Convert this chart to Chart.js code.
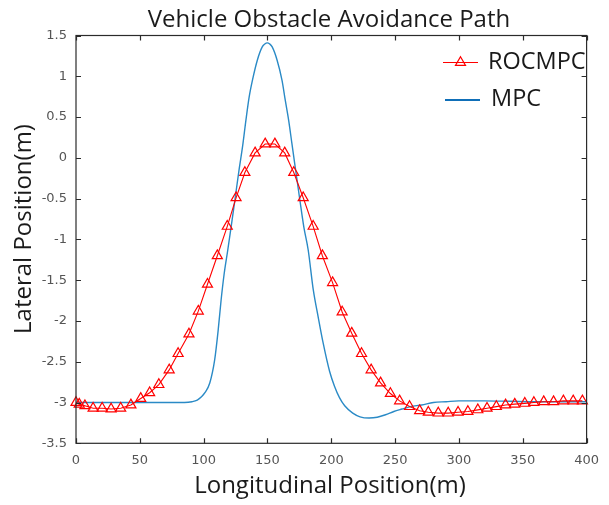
<!DOCTYPE html>
<html>
<head>
<meta charset="utf-8">
<title>Vehicle Obstacle Avoidance Path</title>
<script src="https://cdn.jsdelivr.net/npm/chart.js@4/dist/chart.umd.min.js"></script>
<style>
  html, body { margin: 0; padding: 0; background: #fff; }
  canvas { display: block; }
</style>
</head>
<body>
<canvas id="pathChart" width="609" height="505"></canvas>
<script>
// ROCMPC path (marker points)
const rocX = [0, 2.5, 7, 13.4, 20.5, 27.5, 35, 43, 50.7, 57.7, 64.9, 73, 80, 88.5, 95.8,
  103, 110.7, 118.5, 125.4, 132.3, 140.3, 148.2, 155.8, 163.5, 170.6, 178, 185.8, 193, 201,
  208.5, 216, 223.7, 231.2, 238.6, 246.3, 253.5, 261.3, 269.2, 276, 283.8, 291.6, 299.3,
  307, 314.8, 322, 329.3, 336.5, 343.7, 351.6, 358.7, 366.4, 374.1, 381.8, 389.5, 396.7];
const rocY = [-3.0, -3.02, -3.04, -3.07, -3.07, -3.08, -3.07, -3.03, -2.95, -2.88, -2.78, -2.6, -2.4, -2.16, -1.88,
  -1.55, -1.2, -0.84, -0.49, -0.18, 0.06, 0.17, 0.17, 0.06, -0.18, -0.49, -0.84, -1.2, -1.53,
  -1.89, -2.15, -2.4, -2.6, -2.76, -2.89, -2.98, -3.05, -3.1, -3.12, -3.13, -3.13, -3.12,
  -3.11, -3.09, -3.07, -3.05, -3.03, -3.02, -3.01, -3.0, -2.99, -2.99, -2.98, -2.98, -2.98];

// MPC path
const mpcX = [0, 20, 40, 60, 75, 85, 90.9, 95, 98.3, 101, 104.8, 108.6, 111.4, 113.7, 116,
  118.9, 121.5, 124.1, 127.9, 130.5, 133.1, 135.7, 138.2, 142.1, 145.9, 147.9, 149.8, 151.8, 153.7, 157.5,
  161.4, 163.9, 166.6, 169.1, 171.7, 175.4, 178.5, 181.9, 185.9, 189.7, 193.6, 198.7, 202.5,
  206.4, 210.5, 216.8, 222.5, 229.6, 236, 242.5, 249, 255.3, 262, 270.8, 280, 290, 300, 320,
  340, 360, 380, 400];
const mpcY = [-3.0, -3.0, -3.0, -3.0, -3.0, -3.0, -2.99, -2.97, -2.93, -2.88, -2.76, -2.48, -2.11, -1.74, -1.43,
  -1.13, -0.85, -0.56, -0.13, 0.14, 0.46, 0.75, 0.95, 1.2, 1.36, 1.395, 1.41, 1.395, 1.36, 1.2,
  0.95, 0.71, 0.46, 0.18, -0.11, -0.52, -0.85, -1.13, -1.62, -1.95, -2.27, -2.62, -2.8,
  -2.94, -3.04, -3.13, -3.175, -3.19, -3.18, -3.15, -3.11, -3.08, -3.05, -3.03, -3.0, -2.99, -2.98, -2.98,
  -2.985, -2.99, -2.99, -2.99];

const xTicks = { min: 0, max: 400, step: 50 };
const yTicks = { min: -3.5, max: 1.5, step: 0.5 };

const titleText = 'Vehicle Obstacle Avoidance Path';
const xLabel = 'Longitudinal Position(m)';
const yLabel = 'Lateral Position(m)';
const seriesNames = ['ROCMPC', 'MPC'];

const RED = '#ff0000';
const BLUE = '#2a8ac6';

const toPoints = (xs, ys) => xs.map((x, i) => ({ x, y: ys[i] }));

// box, inward ticks, titles and legend, MATLAB style
const matlabFrame = {
  id: 'matlabFrame',
  afterDraw(chart) {
    const { ctx, chartArea: a, scales } = chart;
    const tl = 5;
    ctx.save();
    ctx.strokeStyle = '#2b2b2b';
    ctx.lineWidth = 1.2;
    ctx.strokeRect(a.left, a.top, a.right - a.left, a.bottom - a.top);
    ctx.beginPath();
    scales.x.ticks.forEach(t => {
      const px = Math.round(scales.x.getPixelForValue(t.value)) + 0.5;
      ctx.moveTo(px, a.bottom); ctx.lineTo(px, a.bottom - tl);
      ctx.moveTo(px, a.top); ctx.lineTo(px, a.top + tl);
    });
    scales.y.ticks.forEach(t => {
      const py = Math.round(scales.y.getPixelForValue(t.value)) + 0.5;
      ctx.moveTo(a.left, py); ctx.lineTo(a.left + tl, py);
      ctx.moveTo(a.right, py); ctx.lineTo(a.right - tl, py);
    });
    ctx.stroke();

    // title
    ctx.fillStyle = '#1a1a1a';
    ctx.textAlign = 'center';
    ctx.textBaseline = 'alphabetic';
    ctx.font = '24px "Open Sans"';
    ctx.fillText(titleText, 329, 27);

    // axis labels
    ctx.textBaseline = 'middle';
    ctx.fillText(xLabel, 330, 486);
    ctx.save();
    ctx.translate(24, 229);
    ctx.rotate(-Math.PI / 2);
    ctx.fillText(yLabel, 0, 0);
    ctx.restore();

    // legend
    ctx.textAlign = 'left';
    ctx.font = '23.5px "Open Sans"';
    ctx.lineWidth = 1.2;
    ctx.strokeStyle = RED;
    ctx.beginPath();
    ctx.moveTo(443, 62.5); ctx.lineTo(478, 62.5);
    const r = 5.8, cx = 460.5, cy = 62.5;
    for (let k = 0; k < 3; k++) {
      const ang = k * 2 * Math.PI / 3;
      const fx = cx + Math.sin(ang) * r, fy = cy - Math.cos(ang) * r;
      if (k === 0) ctx.moveTo(fx, fy); else ctx.lineTo(fx, fy);
    }
    ctx.closePath();
    ctx.stroke();
    ctx.fillText(seriesNames[0], 488, 62);
    ctx.strokeStyle = '#0f6fb8';
    ctx.lineWidth = 2.2;
    ctx.beginPath();
    ctx.moveTo(445, 100); ctx.lineTo(480, 100);
    ctx.stroke();
    ctx.fillText(seriesNames[1], 491, 99);
    ctx.restore();
  }
};

const matlabNum = v => String(Number(v.toFixed(2)));

new Chart(document.getElementById('pathChart'), {
  type: 'line',
  data: {
    datasets: [
      {
        label: seriesNames[1],
        data: toPoints(mpcX, mpcY),
        borderColor: BLUE,
        borderWidth: 1.4,
        pointRadius: 0,
        cubicInterpolationMode: 'monotone',
        fill: false,
        order: 2
      },
      {
        label: seriesNames[0],
        data: toPoints(rocX, rocY),
        borderColor: RED,
        borderWidth: 1.1,
        pointStyle: 'triangle',
        pointRadius: 5.8,
        pointBorderWidth: 1.2,
        pointBorderColor: RED,
        pointBackgroundColor: 'rgba(0,0,0,0)',
        tension: 0,
        fill: false,
        clip: false,
        order: 1
      }
    ]
  },
  options: {
    responsive: false,
    animation: false,
    layout: { padding: { left: 0, right: 15, top: 35.5, bottom: 0 } },
    plugins: {
      legend: { display: false },
      tooltip: { enabled: false },
      title: { display: false }
    },
    scales: {
      x: {
        type: 'linear',
        min: xTicks.min,
        max: xTicks.max,
        grid: { display: false, drawTicks: false },
        border: { display: false },
        ticks: {
          stepSize: xTicks.step,
          padding: 10,
          color: '#555',
          maxRotation: 0,
          font: { family: '"DejaVu Sans"', size: 13 },
          callback: matlabNum
        },
        afterFit(scale) { scale.height = 61.7; }
      },
      y: {
        type: 'linear',
        min: yTicks.min,
        max: yTicks.max,
        grid: { display: false, drawTicks: false },
        border: { display: false },
        ticks: {
          stepSize: yTicks.step,
          padding: 9,
          color: '#555',
          font: { family: '"DejaVu Sans"', size: 13 },
          callback: matlabNum
        },
        afterFit(scale) { scale.width = 76; }
      }
    }
  },
  plugins: [matlabFrame]
});
</script>
</body>
</html>
